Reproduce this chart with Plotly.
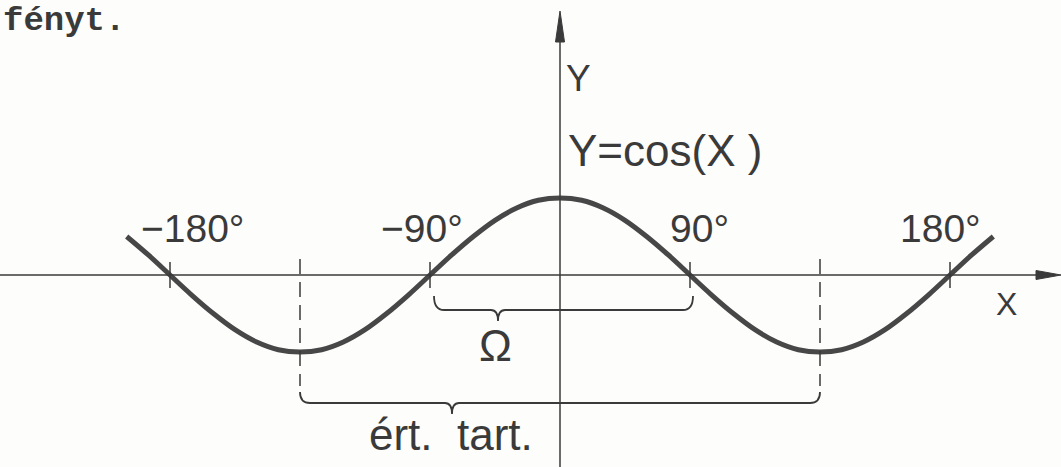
import plotly.graph_objects as go

# ---- data -------------------------------------------------------------
# Y = cos(X), read every 15 degrees along the drawn curve
x_deg = list(range(-300, 301, 15))
y_val = [0.50, 0.26, 0.00, -0.26, -0.50, -0.71, -0.87, -0.97, -1.00, -0.97,
         -0.87, -0.71, -0.50, -0.26, 0.00, 0.26, 0.50, 0.71, 0.87, 0.97,
         1.00,
         0.97, 0.87, 0.71, 0.50, 0.26, 0.00, -0.26, -0.50, -0.71, -0.87,
         -0.97, -1.00, -0.97, -0.87, -0.71, -0.50, -0.26, 0.00, 0.26, 0.50]

# axis crossings marked with short ticks and their written labels
tick_deg = [-270, -90, 90, 270]
tick_labels = ["\u2212180\u00b0", "\u221290\u00b0", "90\u00b0", "180\u00b0"]

omega_span = [-90, 90]        # Ω brace
range_span = [-180, 180]      # "ért. tart." brace and dashed guides

# ---- geometry helpers (figure is 1061 x 467 px) -----------------------
W, H = 1061, 467
X0_PX, Y0_PX = 560, 275        # origin in pixels
PX_PER_DEG = 130 / 90
PX_PER_UNIT = 77


def dx(px):
    return (px - X0_PX) / PX_PER_DEG


def dy(py):
    return (Y0_PX - py) / PX_PER_UNIT


def px_x(deg):
    return X0_PX + deg * PX_PER_DEG


INK = "#3a3a3a"
CURVE = "#474747"
SANS = "Liberation Sans, Arial, sans-serif"

fig = go.Figure()

fig.add_trace(go.Scatter(
    x=x_deg, y=y_val, mode="lines",
    line=dict(color=CURVE, width=5, shape="spline", smoothing=1.0),
    hoverinfo="skip", showlegend=False,
))

shapes = []

# X axis with arrow
shapes.append(dict(type="line", xref="x", yref="y",
                   x0=dx(0), x1=dx(1040), y0=0, y1=0,
                   line=dict(color=INK, width=1.5)))
shapes.append(dict(type="path", xref="x", yref="y",
                   path=f"M {dx(1061)},{0} L {dx(1036)},{dy(270.5)} "
                        f"L {dx(1036)},{dy(279.5)} Z",
                   fillcolor=INK, line=dict(color=INK, width=1)))

# Y axis with arrow
shapes.append(dict(type="line", xref="x", yref="y",
                   x0=0, x1=0, y0=dy(467), y1=dy(35),
                   line=dict(color=INK, width=1.5)))
shapes.append(dict(type="path", xref="x", yref="y",
                   path=f"M {0},{dy(11)} L {dx(555.5)},{dy(42)} "
                        f"L {dx(564.5)},{dy(42)} Z",
                   fillcolor=INK, line=dict(color=INK, width=1)))

# short ticks where the curve crosses the X axis
for d in tick_deg:
    shapes.append(dict(type="line", xref="x", yref="y",
                       x0=d, x1=d, y0=dy(262), y1=dy(288),
                       line=dict(color=INK, width=1.5)))

# dashed guides down to the large brace
for d in range_span:
    shapes.append(dict(type="line", xref="x", yref="y",
                       x0=d, x1=d, y0=dy(259), y1=dy(386),
                       line=dict(color=INK, width=1.5, dash="15px,8px")))


def brace(x_left_px, x_right_px, tip_px, y_end, y_bar, y_tip, r=10):
    """Curly brace opening upwards, built from quadratic curves."""
    p = (f"M {dx(x_left_px)},{dy(y_end)} "
         f"Q {dx(x_left_px)},{dy(y_bar)} {dx(x_left_px + r)},{dy(y_bar)} "
         f"L {dx(tip_px - 7)},{dy(y_bar)} "
         f"Q {dx(tip_px)},{dy(y_bar)} {dx(tip_px)},{dy(y_tip)} "
         f"Q {dx(tip_px)},{dy(y_bar)} {dx(tip_px + 7)},{dy(y_bar)} "
         f"L {dx(x_right_px - r)},{dy(y_bar)} "
         f"Q {dx(x_right_px)},{dy(y_bar)} {dx(x_right_px)},{dy(y_end)}")
    return dict(type="path", xref="x", yref="y", path=p,
                line=dict(color=INK, width=1.8))


shapes.append(brace(px_x(omega_span[0]) + 4, px_x(omega_span[1]) + 3,
                    498, 296, 310, 321))
shapes.append(brace(px_x(range_span[0]), px_x(range_span[1]),
                    452, 392, 403, 414))

annotations = []


def label(text, x_px, y_px, size, family=SANS, xanchor="center", bold=False):
    t = f"<b>{text}</b>" if bold else text
    annotations.append(dict(
        text=t, x=x_px / W, y=1 - y_px / H, xref="paper", yref="paper",
        xanchor=xanchor, yanchor="middle", showarrow=False,
        font=dict(family=family, size=size, color=INK)))


label_offsets = [22, -8, 9, -10]
for d, txt, off in zip(tick_deg, tick_labels, label_offsets):
    label(txt, px_x(d) + off, 228, 39)

label("Y", 578, 79, 37)
label("Y=cos(X )", 566, 150, 44, xanchor="left")
label("X", 1006, 304, 32)
label("\u03a9", 495, 345, 44)
label("\u00e9rt.  tart.", 451, 434, 44)
label("f\u00e9nyt.", 1, 21, 34, family="Liberation Mono, Courier New, monospace",
      xanchor="left", bold=True)

fig.update_layout(
    width=W, height=H,
    margin=dict(l=0, r=0, t=0, b=0),
    paper_bgcolor="#fdfdfb", plot_bgcolor="#fdfdfb",
    xaxis=dict(range=[dx(0), dx(W)], visible=False, fixedrange=True),
    yaxis=dict(range=[dy(H), dy(0)], visible=False, fixedrange=True),
    shapes=shapes, annotations=annotations,
)

fig.write_html("out.html")
